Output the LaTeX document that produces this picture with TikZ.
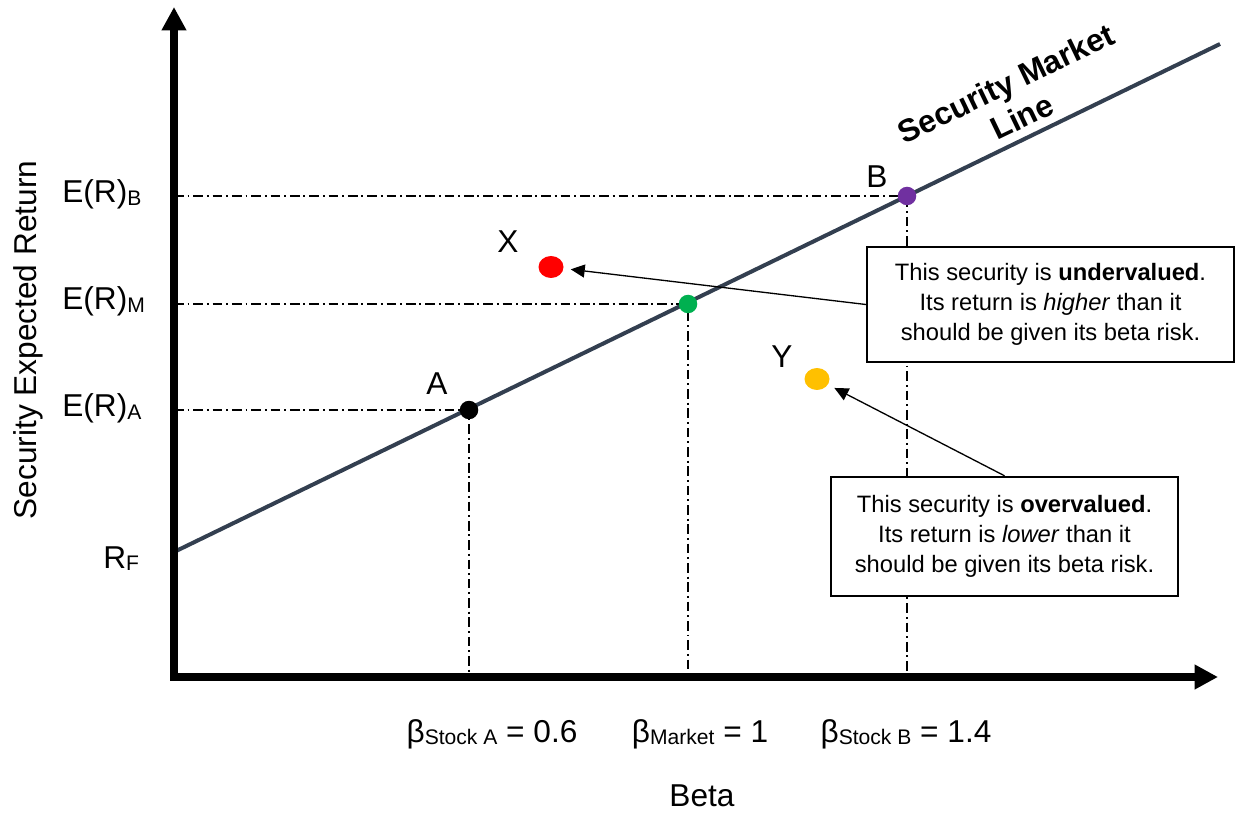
\documentclass[tikz,border=0pt]{standalone}
\usepackage{fontspec}
\setmainfont{Liberation Sans}
\usetikzlibrary{arrows.meta, shapes.geometric, positioning, backgrounds}

\definecolor{smlslate}{HTML}{333F50}
\definecolor{mktgreen}{HTML}{00B050}
\definecolor{stockpurple}{HTML}{7030A0}
\definecolor{overyellow}{HTML}{FFC000}

\newcommand{\lowsub}[1]{\raisebox{-1.5pt}{\fontsize{12}{12}\selectfont #1}}

\begin{document}
\begin{tikzpicture}[
    x=0.02cm, y=-0.02cm,
    axis/.style={line width=0.15cm, {Triangle[length=0.47cm, width=0.47cm]}-{Triangle[length=0.47cm, width=0.47cm]}},
    guide/.style={line width=0.6pt, dash pattern=on 5.5pt off 2.2pt on 1.1pt off 2.2pt},
    sml/.style={line width=0.08cm, draw=smlslate},
    dot/.style={circle, inner sep=0pt, minimum size=0.37cm},
    blob/.style={ellipse, inner sep=0pt, minimum width=0.5cm, minimum height=0.44cm},
    lbl/.style={font=\fontsize{18}{21}\selectfont, inner sep=0pt},
    note/.style={rectangle, draw, line width=1.4pt, fill=white, align=center, inner sep=0pt, font=\fontsize{13.5}{17}\selectfont},
    callout/.style={-{Triangle[length=0.28cm, width=0.26cm]}, line width=0.75pt, shorten >=4pt}
]
\useasboundingbox (0,0) rectangle (1236,813);

% Axes
\coordinate (origin) at (174,677);
\coordinate (ytop) at (174,7);
\coordinate (xend) at (1218,677);
\draw[axis] (ytop) -- (origin) -- (xend);

% Security market line ends
\coordinate (rf) at (174,552);
\coordinate (smlend) at (1220,44);

% Points on and off the line
\node[dot, fill=black] (ptA) at (469,410) {};
\node[dot, fill=mktgreen] (ptM) at (688,304) {};
\node[dot, fill=stockpurple] (ptB) at (907,196) {};
\node[blob, fill=red] (ptX) at (551,267) {};
\node[blob, fill=overyellow] (ptY) at (817,379) {};

% Point labels
\node[lbl, anchor=base] (labA) at (437,395) {A};
\node[lbl, anchor=base] (labB) at (877,188) {B};
\node[lbl, anchor=base] (labX) at (508,253) {X};
\node[lbl, anchor=base] (labY) at (782,368) {Y};

% Return levels
\node[lbl, anchor=base west] (erB) at (62,203) {E(R)\lowsub{B}};
\node[lbl, anchor=base west] (erM) at (62,310) {E(R)\lowsub{M}};
\node[lbl, anchor=base west] (erA) at (62,417) {E(R)\lowsub{A}};
\node[lbl, anchor=base west] (rfLab) at (103,568) {R\lowsub{F}};
\node[lbl, anchor=base, rotate=90] (ytitle) at (36,340) {Security Expected Return};

% Beta levels
\node[lbl, anchor=base] (betaA) at (492,742) {β\lowsub{Stock A} = 0.6};
\node[lbl, anchor=base] (betaM) at (700,742) {β\lowsub{Market} = 1};
\node[lbl, anchor=base] (betaB) at (906,742) {β\lowsub{Stock B} = 1.4};
\node[lbl, anchor=base] (xtitle) at (702,806) {Beta};

% Line title
\node[font=\bfseries\fontsize{18}{21}\selectfont, align=center, rotate=25.7] (smlLab) at (1014,100) {Security Market\\Line};

% Notes
\node[note, minimum width=7.34cm, minimum height=2.3cm] (under) at (1050.5,304.5) {This security is \textbf{undervalued}.\\Its return is \textit{higher} than it\\should be given its beta risk.};
\node[note, minimum width=6.94cm, minimum height=2.38cm] (over) at (1004.5,536.5) {This security is \textbf{overvalued}.\\Its return is \textit{lower} than it\\should be given its beta risk.};

\draw[callout] (under.west) -- (ptX);
\draw[callout] (over.north) -- (ptY);

% Guides
\begin{scope}[on background layer]
\draw[guide] (ptA.center -| origin) -- (ptA.center) -- (ptA.center |- origin);
\draw[guide] (ptM.center -| origin) -- (ptM.center) -- (ptM.center |- origin);
\draw[guide] (ptB.center -| origin) -- (ptB.center) -- (ptB.center |- origin);
\draw[sml] (rf) -- (smlend);
\end{scope}

\end{tikzpicture}
\end{document}
